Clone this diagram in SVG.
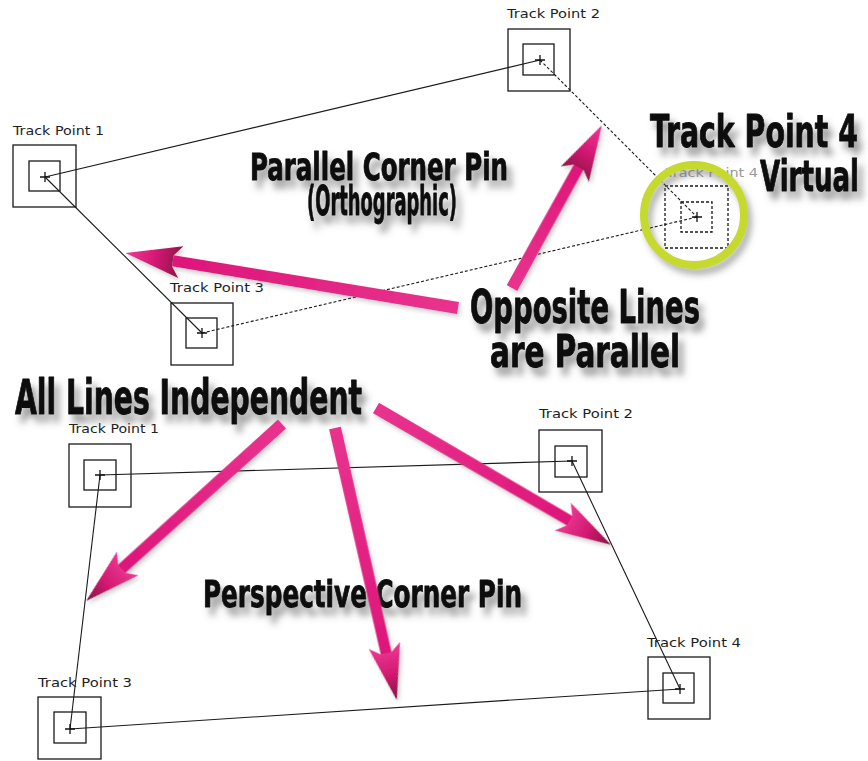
<svg xmlns="http://www.w3.org/2000/svg" width="868" height="761" viewBox="0 0 868 761">
  <defs>
    <style>
      .box { fill: none; stroke: #1a1a1a; stroke-width: 1.3; }
      .vbox { fill: none; stroke: #1a1a1a; stroke-width: 1.3; stroke-dasharray: 3 2; }
      .cross { stroke: #111; stroke-width: 1.3; }
      .link { fill: none; stroke: #1a1a1a; stroke-width: 1.1; }
      .dotted { stroke-dasharray: 3 2; }
      .lbl { font-family: "DejaVu Sans", "Liberation Sans", sans-serif; font-size: 12.5px; fill: #1e1e1e; }
      .ghost { fill: #9a9a9a; }
      .big { font-family: "Liberation Sans Narrow", "DejaVu Sans Condensed", "Liberation Sans", sans-serif; font-weight: bold; fill: #0d0d0d; stroke: #0d0d0d; stroke-width: 0.9; stroke-linejoin: round; filter: url(#shadow); }
      .shaft { fill: url(#shaftFill); }
      .ring { fill: none; stroke: #c6d92e; stroke-width: 8; filter: url(#ringShadow); }
    </style>
    <filter id="shadow" x="-10%" y="-30%" width="130%" height="190%">
      <feDropShadow dx="5" dy="8" stdDeviation="3.8" flood-color="#555" flood-opacity="0.6"/>
    </filter>
    <filter id="ringShadow" x="-20%" y="-20%" width="150%" height="150%">
      <feDropShadow dx="4" dy="6" stdDeviation="3" flood-color="#666" flood-opacity="0.5"/>
    </filter>
    <filter id="arrowShadow" x="-10%" y="-50%" width="120%" height="200%">
      <feDropShadow dx="2" dy="3" stdDeviation="2" flood-color="#777" flood-opacity="0.35"/>
    </filter>
    <linearGradient id="shaftFill" x1="0" y1="0" x2="1" y2="0">
      <stop offset="0" stop-color="#e8338e"/>
      <stop offset="1" stop-color="#de167a"/>
    </linearGradient>
    <!-- head dark toward the barbs -->
    <linearGradient id="headBack" x1="0" y1="0" x2="1" y2="0">
      <stop offset="0" stop-color="#8e1148"/>
      <stop offset="0.45" stop-color="#d41774"/>
      <stop offset="1" stop-color="#ee3a95"/>
    </linearGradient>
    <!-- head dark toward the point -->
    <linearGradient id="headTip" x1="0" y1="0" x2="1" y2="0">
      <stop offset="0" stop-color="#ee3a95"/>
      <stop offset="0.55" stop-color="#d0186f"/>
      <stop offset="1" stop-color="#7e1042"/>
    </linearGradient>
  </defs>

  <rect width="868" height="761" fill="#ffffff"/>

  <!-- ===== connectors ===== -->
  <g id="connectors">
    <!-- parallel (orthographic) pin -->
    <line class="link" x1="45" y1="177" x2="540" y2="60"/>
    <line class="link" x1="45" y1="177" x2="202" y2="333"/>
    <line class="link dotted" x1="540" y1="60" x2="697" y2="217"/>
    <line class="link dotted" x1="202" y1="333" x2="697" y2="217"/>
    <!-- perspective pin -->
    <line class="link" x1="100" y1="475" x2="572" y2="461"/>
    <line class="link" x1="100" y1="475" x2="70" y2="729"/>
    <line class="link" x1="572" y1="461" x2="680" y2="689"/>
    <line class="link" x1="70" y1="729" x2="680" y2="689"/>
  </g>

  <!-- ===== parallel corner pin nodes ===== -->
  <g id="p-tp1">
    <text class="lbl" x="13" y="135" textLength="91" lengthAdjust="spacingAndGlyphs">Track Point 1</text>
    <rect class="box" x="13" y="145" width="63" height="62"/>
    <rect class="box" x="29" y="161" width="31" height="30"/>
    <path class="cross" d="M40 177h10M45 172v10"/>
  </g>
  <g id="p-tp2">
    <text class="lbl" x="507" y="18" textLength="93" lengthAdjust="spacingAndGlyphs">Track Point 2</text>
    <rect class="box" x="508" y="29" width="62" height="62"/>
    <rect class="box" x="523" y="44" width="31" height="31"/>
    <path class="cross" d="M535 60h10M540 55v10"/>
  </g>
  <g id="p-tp3">
    <text class="lbl" x="170" y="292" textLength="94" lengthAdjust="spacingAndGlyphs">Track Point 3</text>
    <rect class="box" x="171" y="303" width="62" height="62"/>
    <rect class="box" x="186" y="318" width="31" height="30"/>
    <path class="cross" d="M197 333h10M202 328v10"/>
  </g>
  <g id="p-tp4">
    <text class="lbl ghost" x="666" y="177" textLength="92" lengthAdjust="spacingAndGlyphs">Track Point 4</text>
    <rect class="vbox" x="665" y="186" width="63" height="62"/>
    <rect class="vbox" x="681" y="202" width="31" height="30"/>
    <path class="cross" d="M692 217h10M697 212v10"/>
    <circle class="ring" cx="694" cy="215" r="50"/>
  </g>

  <!-- ===== perspective corner pin nodes ===== -->
  <g id="q-tp1">
    <text class="lbl" x="69" y="433" textLength="90" lengthAdjust="spacingAndGlyphs">Track Point 1</text>
    <rect class="box" x="69" y="444" width="62" height="63"/>
    <rect class="box" x="84" y="460" width="32" height="30"/>
    <path class="cross" d="M95 475h10M100 470v10"/>
  </g>
  <g id="q-tp2">
    <text class="lbl" x="539" y="418" textLength="94" lengthAdjust="spacingAndGlyphs">Track Point 2</text>
    <rect class="box" x="539" y="430" width="63" height="62"/>
    <rect class="box" x="555" y="446" width="32" height="31"/>
    <path class="cross" d="M567 461h10M572 456v10"/>
  </g>
  <g id="q-tp3">
    <text class="lbl" x="38" y="687" textLength="94" lengthAdjust="spacingAndGlyphs">Track Point 3</text>
    <rect class="box" x="38" y="697" width="63" height="62"/>
    <rect class="box" x="54" y="712" width="32" height="31"/>
    <path class="cross" d="M65 729h10M70 724v10"/>
  </g>
  <g id="q-tp4">
    <text class="lbl" x="647" y="647" textLength="94" lengthAdjust="spacingAndGlyphs">Track Point 4</text>
    <rect class="box" x="648" y="657" width="62" height="62"/>
    <rect class="box" x="663" y="673" width="31" height="30"/>
    <path class="cross" d="M675 689h10M680 684v10"/>
  </g>

  <!-- ===== captions ===== -->
  <g id="captions">
    <text class="big" x="650" y="147" font-size="45" textLength="208" lengthAdjust="spacingAndGlyphs">Track Point 4</text>
    <text class="big" x="760" y="191" font-size="43" textLength="99" lengthAdjust="spacingAndGlyphs">Virtual</text>
    <text class="big" x="250" y="180" font-size="37" textLength="258" lengthAdjust="spacingAndGlyphs">Parallel Corner Pin</text>
    <text class="big" x="307" y="215" font-size="40" textLength="150" lengthAdjust="spacingAndGlyphs">(Orthographic)</text>
    <text class="big" x="470" y="323" font-size="46" textLength="230" lengthAdjust="spacingAndGlyphs">Opposite Lines</text>
    <text class="big" x="490" y="367" font-size="44" textLength="190" lengthAdjust="spacingAndGlyphs">are Parallel</text>
    <text class="big" x="15" y="414" font-size="48" textLength="347" lengthAdjust="spacingAndGlyphs">All Lines Independent</text>
    <text class="big" x="203" y="607" font-size="38" textLength="319" lengthAdjust="spacingAndGlyphs">Perspective Corner Pin</text>
  </g>

  <!-- ===== pointer arrows (drawn along +x, then placed) ===== -->
  <g id="pointers" filter="url(#arrowShadow)">
    <!-- to TP1–TP3 edge -->
    <g transform="translate(458 308) rotate(189.4)">
      <path class="shaft" d="M0 -6L289 -5.5L289 5.5L0 6Z"/>
      <path fill="url(#headBack)" d="M281 -16L337 0L281 16L289 5.5L289 -5.5Z"/>
    </g>
    <!-- to TP2–TP4 edge -->
    <g transform="translate(512 288) rotate(-61.1)">
      <path class="shaft" d="M0 -6L138 -5.5L138 5.5L0 6Z"/>
      <path fill="url(#headBack)" d="M130 -16L186 0L130 16L138 5.5L138 -5.5Z"/>
    </g>
    <!-- to left edge -->
    <g transform="translate(282 424) rotate(137.9)">
      <path class="shaft" d="M0 -6L216 -5.5L216 5.5L0 6Z"/>
      <path fill="url(#headTip)" d="M208 -16L264 0L208 16L216 5.5L216 -5.5Z"/>
    </g>
    <!-- to bottom edge -->
    <g transform="translate(335 428) rotate(77.2)">
      <path class="shaft" d="M0 -6L231 -5.5L231 5.5L0 6Z"/>
      <path fill="url(#headTip)" d="M223 -16L279 0L223 16L231 5.5L231 -5.5Z"/>
    </g>
    <!-- to right edge -->
    <g transform="translate(376 408) rotate(30.2)">
      <path class="shaft" d="M0 -6L224 -5.5L224 5.5L0 6Z"/>
      <path fill="url(#headTip)" d="M216 -16L272 0L216 16L224 5.5L224 -5.5Z"/>
    </g>
  </g>
</svg>
